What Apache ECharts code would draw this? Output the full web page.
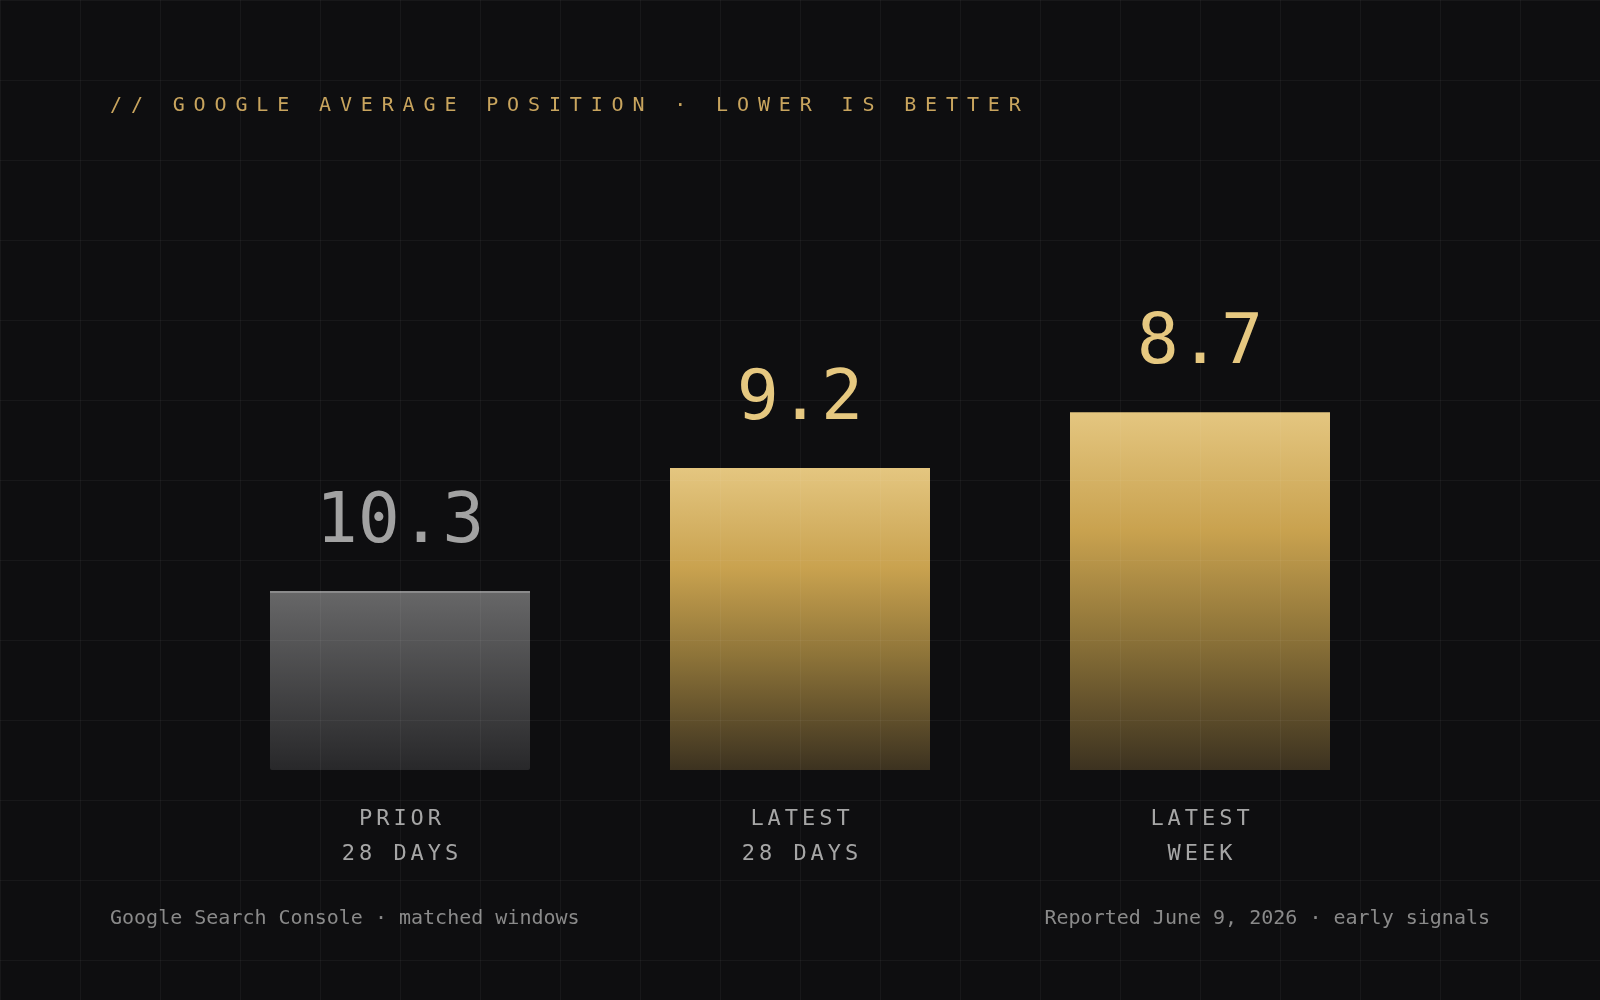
<!DOCTYPE html>
<html>
<head>
<meta charset="utf-8">
<style>
  html, body { margin: 0; padding: 0; background: #0e0e10; }
  #chart { width: 1600px; height: 1000px; }
</style>
<script src="https://cdn.jsdelivr.net/npm/echarts@6/dist/echarts.min.js"></script>
</head>
<body>
<div id="chart"></div>
<script>
// ---- data ----
const categories = ['PRIOR\n28 DAYS', 'LATEST\n28 DAYS', 'LATEST\nWEEK'];
const positions = [10.3, 9.2, 8.7];
const titleText = '// GOOGLE AVERAGE POSITION \u00b7 LOWER IS BETTER';
const footerLeft = 'Google Search Console \u00b7 matched windows';
const footerRight = 'Reported June 9, 2026 \u00b7 early signals';

// value scale (inverted: lower position = taller bar)
const AXIS_MIN = 5.9;
const AXIS_MAX = 11.9;

const MONO = '"DejaVu Sans Mono", "Liberation Mono", monospace';

function spaced(str, key) {
  return str.split('\n').map(function (line) {
    return Array.from(line).map(function (ch) { return '{' + key + '|' + ch + '}'; }).join('');
  }).join('\n');
}

const chart = echarts.init(document.getElementById('chart'), null, { renderer: 'canvas' });

const goldGrad = function () {
  return new echarts.graphic.LinearGradient(0, 0, 0, 1, [
    { offset: 0, color: '#e4c680' },
    { offset: 0.33, color: '#c9a24f' },
    { offset: 0.62, color: '#8e7439' },
    { offset: 1, color: '#3c3220' }
  ]);
};
const grayGrad = function () {
  return new echarts.graphic.LinearGradient(0, 0, 0, 1, [
    { offset: 0, color: '#676768' },
    { offset: 1, color: '#28282a' }
  ]);
};

const option = {
  backgroundColor: '#0e0e10',
  animation: false,
  grid: [
    { left: 200, right: 200, top: 99, bottom: 230 },
    { left: 0, right: 0, top: 0, bottom: 0 }
  ],
  xAxis: [
    {
      type: 'category', gridIndex: 0, data: categories, boundaryGap: true,
      axisLine: { show: false }, axisTick: { show: false }, splitLine: { show: false },
      axisLabel: {
        interval: 0, margin: 32,
        formatter: function (v) { return spaced(v, 'c'); },
        rich: { c: { fontFamily: MONO, fontSize: 22, color: '#a6a6a6', width: 17.2, lineHeight: 35 } }
      }
    },
    {
      type: 'value', gridIndex: 1, min: 0, max: 1600, interval: 80, z: 10,
      axisLine: { show: false }, axisTick: { show: false }, axisLabel: { show: false },
      splitLine: { show: true, lineStyle: { color: 'rgba(255,255,255,0.045)', width: 1 } }
    }
  ],
  yAxis: [
    {
      type: 'value', gridIndex: 0, inverse: true, min: AXIS_MIN, max: AXIS_MAX,
      axisLine: { show: false }, axisTick: { show: false }, axisLabel: { show: false },
      splitLine: { show: false }
    },
    {
      type: 'value', gridIndex: 1, min: 0, max: 1000, interval: 80, inverse: true, z: 10,
      axisLine: { show: false }, axisTick: { show: false }, axisLabel: { show: false },
      splitLine: { show: true, lineStyle: { color: 'rgba(255,255,255,0.045)', width: 1 } }
    }
  ],
  series: [
    {
      type: 'custom',
      xAxisIndex: 0, yAxisIndex: 0,
      data: positions.map(function (v, i) { return [i, v]; }),
      encode: { x: 0, y: 1 },
      renderItem: function (params, api) {
        const idx = api.value(0);
        const v = api.value(1);
        const topPt = api.coord([idx, v]);
        const basePt = api.coord([idx, AXIS_MAX]);
        const bw = api.size([1, 0])[0] * 0.65;
        const isPrior = params.dataIndex === 0;
        const children = [
          {
            type: 'rect',
            shape: { x: topPt[0] - bw / 2, y: topPt[1], width: bw, height: basePt[1] - topPt[1], r: isPrior ? 2 : 0 },
            style: { fill: isPrior ? grayGrad() : goldGrad() }
          }
        ];
        if (isPrior) {
          children.push({
            type: 'rect',
            shape: { x: topPt[0] - bw / 2, y: topPt[1], width: bw, height: 2 },
            style: { fill: '#8a8a8b' }
          });
        }
        children.push({
          type: 'text',
          x: topPt[0], y: topPt[1] - 32,
          style: {
            text: v.toFixed(1),
            fontFamily: MONO, fontSize: 70,
            fill: isPrior ? '#a2a2a2' : '#e6c880',
            align: 'center', verticalAlign: 'bottom'
          }
        });
        return { type: 'group', children: children };
      }
    }
  ],
  graphic: [
    {
      type: 'text', x: 110, y: 105.5,
      style: {
        text: spaced(titleText, 't'),
        align: 'left', verticalAlign: 'middle',
        rich: { t: { fontFamily: MONO, fontSize: 20, fill: '#c9a55e', width: 20.9 } }
      }
    },
    {
      type: 'text', x: 110, y: 919,
      style: { text: footerLeft, fontFamily: MONO, fontSize: 20, fill: '#8a8a8a', align: 'left', verticalAlign: 'middle' }
    },
    {
      type: 'text', x: 1490, y: 919,
      style: { text: footerRight, fontFamily: MONO, fontSize: 20, fill: '#8a8a8a', align: 'right', verticalAlign: 'middle' }
    }
  ]
};

chart.setOption(option);
</script>
</body>
</html>
